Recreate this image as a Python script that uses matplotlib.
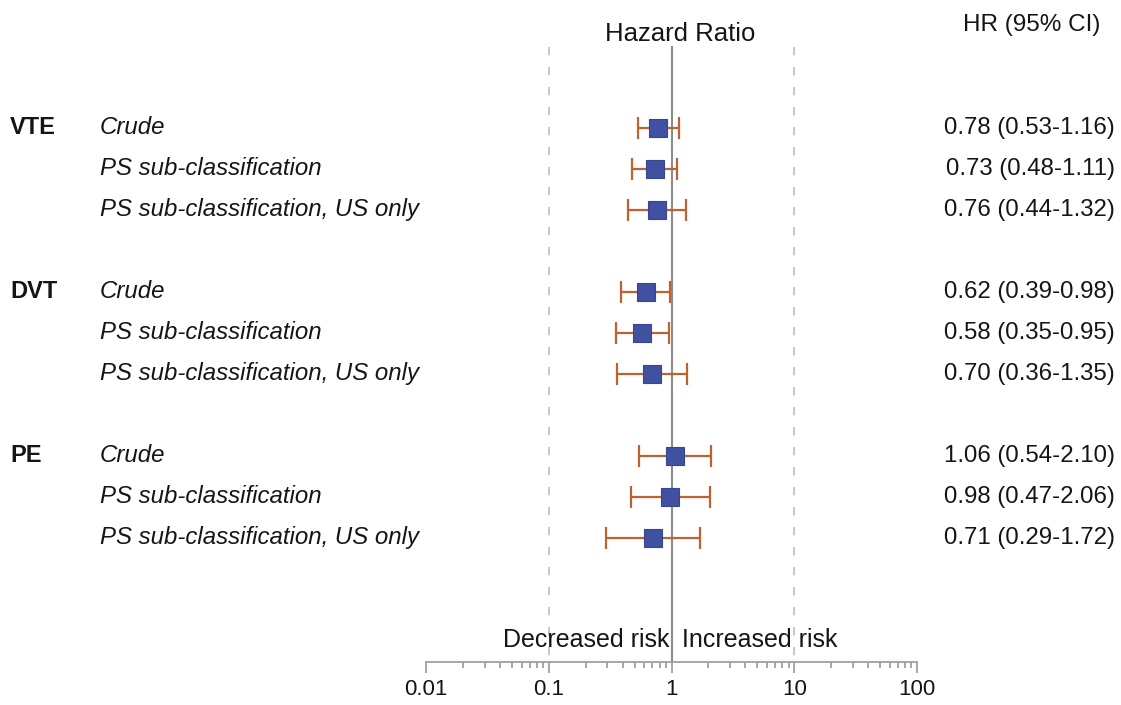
import matplotlib
matplotlib.use("Agg")
import matplotlib.pyplot as plt
import matplotlib.transforms as mtransforms
from matplotlib.ticker import FixedLocator, LogLocator, NullFormatter

plt.rcParams['font.family'] = ['Liberation Sans', 'DejaVu Sans']

groups = ["VTE", "DVT", "PE"]
methods = ["Crude", "PS sub-classification", "PS sub-classification, US only"]
hr = [0.78, 0.73, 0.76, 0.62, 0.58, 0.70, 1.06, 0.98, 0.71]
lo = [0.53, 0.48, 0.44, 0.39, 0.35, 0.36, 0.54, 0.47, 0.29]
hi = [1.16, 1.11, 1.32, 0.98, 0.95, 1.35, 2.10, 2.06, 1.72]
xticks = [0.01, 0.1, 1, 10, 100]
xticklabels = ["0.01", "0.1", "1", "10", "100"]

W, H = 1121, 705
fig = plt.figure(figsize=(W / 100, H / 100), dpi=100)
ax = fig.add_axes([426 / W, (H - 662) / H, (917 - 426) / W, 662 / H])

rows = []
for g in range(len(groups)):
    for m in range(len(methods)):
        rows.append(g * 4 + m)

blue = "#3F51A0"
orange = "#C0622F"
grey = "#A0A0A0"
txt = "#151515"

ax.set_xscale("log")
ax.set_xlim(0.01, 100)
ax.set_ylim(13.03, -3.12)

# reference lines
ax.plot([1, 1], [-1.98, 13.03], color="#8C8C8C", lw=1.5, zorder=1)
for v in (0.1, 10):
    ax.plot([v, v], [-1.98, 13.03], color="#BDBDBD", lw=1.2, ls=(0, (5, 7)), zorder=1)

ax.errorbar(hr, rows, xerr=[[h - l for h, l in zip(hr, lo)], [u - h for u, h in zip(hi, hr)]],
            fmt="none", ecolor=orange, elinewidth=1.6, capsize=8, capthick=1.6, zorder=2)
ax.plot(hr, rows, ls="none", marker="s", ms=13, mfc=blue, mec="#35478F", mew=0.8, zorder=3)

for s in ("top", "left", "right"):
    ax.spines[s].set_visible(False)
ax.spines["bottom"].set_color(grey)
ax.spines["bottom"].set_linewidth(1.3)
ax.set_yticks([])
ax.xaxis.set_major_locator(FixedLocator(xticks))
ax.set_xticklabels(xticklabels)
ax.xaxis.set_minor_locator(LogLocator(base=10, subs=range(2, 10)))
ax.xaxis.set_minor_formatter(NullFormatter())
ax.tick_params(axis="x", which="major", direction="out", length=8, width=1.3, color=grey,
               labelsize=16, pad=4, labelcolor=txt)
ax.tick_params(axis="x", which="minor", direction="out", length=4.5, width=1.3, color=grey)

trans = mtransforms.blended_transform_factory(fig.transFigure, ax.transData)
fs = 17.3
for g, gname in enumerate(groups):
    ax.text(10 / W, g * 4, gname, transform=trans, fontsize=17, fontweight="bold",
            ha="left", va="center", color=txt)
for i, r in enumerate(rows):
    ax.text(100 / W, r, methods[i % 3], transform=trans, fontsize=fs, style="italic",
            ha="left", va="center", color=txt)
    ax.text(1115 / W, r, f"{hr[i]:.2f} ({lo[i]:.2f}-{hi[i]:.2f})", transform=trans,
            fontsize=fs, ha="right", va="center", color=txt)

ax.text(680 / W, -2.3, "Hazard Ratio", transform=trans, fontsize=18.5, ha="center",
        va="center", color=txt)
ax.text(1032 / W, -2.5, "HR (95% CI)", transform=trans, fontsize=17.5, ha="center",
        va="center", color=txt)
ax.text(0.97, 12.5, "Decreased risk", fontsize=18, ha="right", va="center", color=txt)
ax.text(1.22, 12.5, "Increased risk", fontsize=18, ha="left", va="center", color=txt)

fig.savefig("out.png", dpi=100, facecolor="white")
